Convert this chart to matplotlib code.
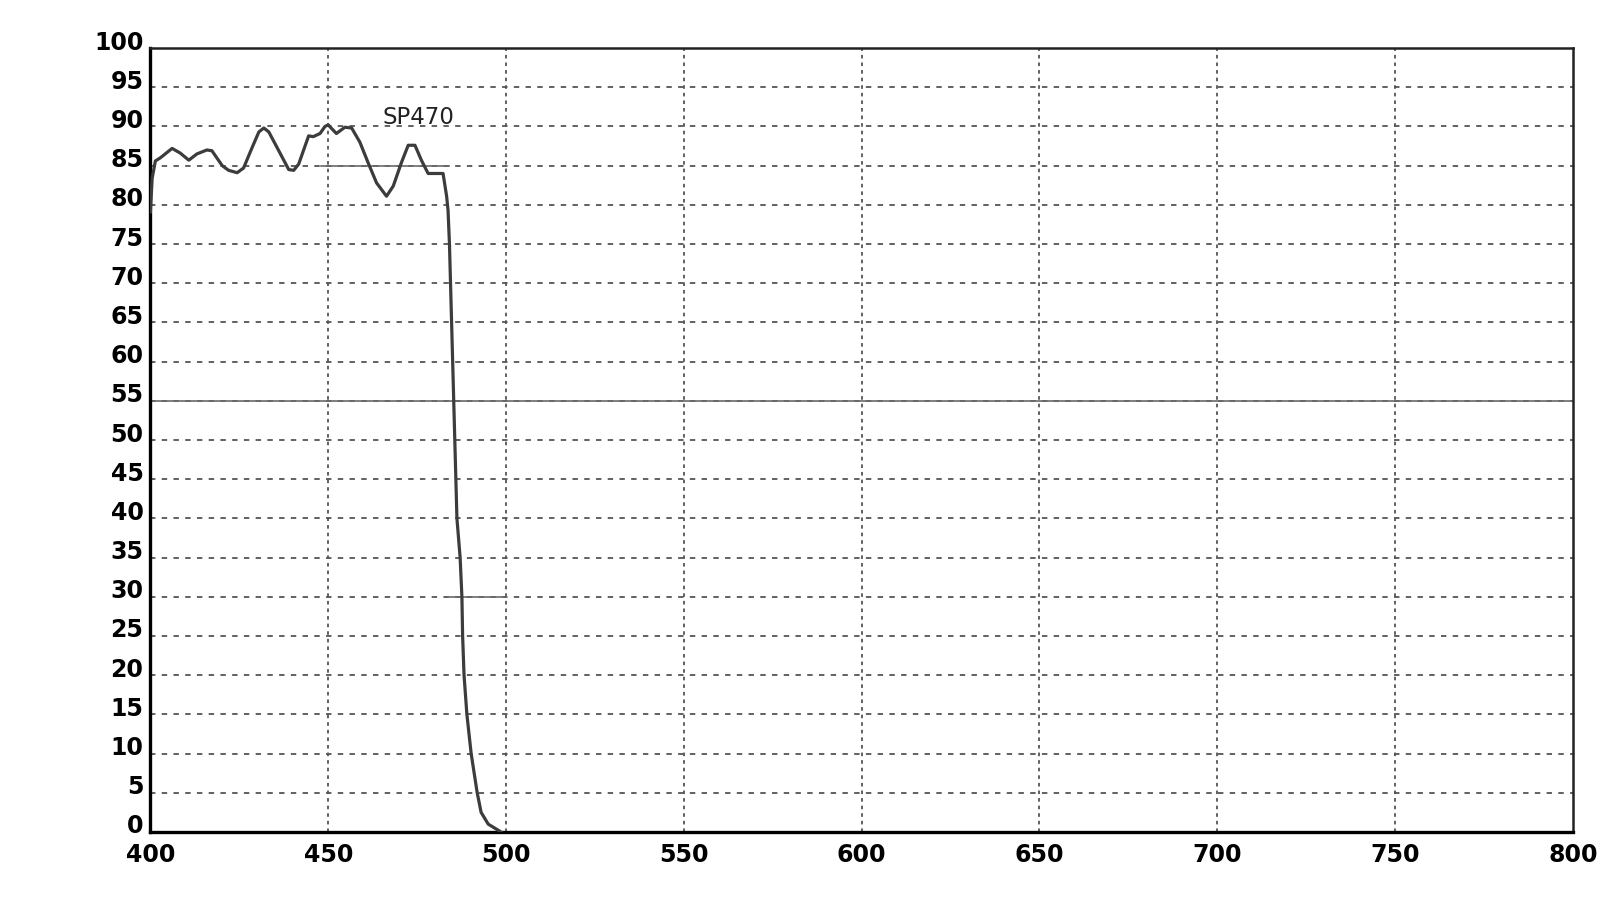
import matplotlib
matplotlib.use("Agg")
import matplotlib.pyplot as plt
import matplotlib.transforms as mtransforms

# transmission curve of the SP470 short-pass filter
wavelength = [400, 400.5, 401.4, 402.8, 406.1, 408.4, 410.8, 413.1, 415.9,
              417.3, 420.2, 422.0, 424.4, 426.2, 428.6, 430.5, 431.9, 433.3,
              436.1, 438.9, 440.3, 441.7, 444.5, 445.8, 447.7, 449.1, 450.0,
              452.3, 454.7, 456.6, 458.9, 461.2, 463.6, 466.4, 468.3, 470.6,
              472.5, 474.4, 476.2, 478.1, 482.3, 483.3, 483.7, 484.1, 485.3,
              486.2, 487.1, 487.6, 487.8, 488.2, 489.0, 490.2, 491.9, 493.0,
              495.0, 498.6]
transmission = [79.1, 83.4, 85.6, 86.0, 87.2, 86.6, 85.7, 86.5, 87.0,
                86.9, 85.0, 84.4, 84.1, 84.7, 87.3, 89.3, 89.8, 89.3,
                86.9, 84.5, 84.4, 85.2, 88.8, 88.7, 89.1, 90.0, 90.2,
                89.1, 89.9, 89.8, 88.0, 85.4, 82.8, 81.1, 82.4, 85.4,
                87.6, 87.6, 85.7, 84.0, 84.0, 81.1, 79.3, 75.0, 55.0,
                40.0, 35.0, 30.0, 25.0, 20.0, 15.0, 10.0, 5.0, 2.5,
                1.0, 0.0]

x_ticks = [400, 450, 500, 550, 600, 650, 700, 750, 800]
y_ticks = list(range(0, 101, 5))
curve_label = "SP470"

# solid stretches of grid left over in the scanned sheet
solid_levels = [55, 85, 30]
solid_from = [400, 448, 484]
solid_to = [800, 484, 500]

fig = plt.figure(figsize=(16, 9), dpi=100)
ax = fig.add_axes([0.094, 0.0756, 0.889, 0.871])

ax.set_xlim(400, 800)
ax.set_ylim(0, 100)

# dotted grid
for xv in x_ticks[1:-1]:
    ax.axvline(xv, color="#555555", lw=1.3, ls=(0, (2, 2.2)), zorder=1)
for yv in y_ticks[1:-1]:
    ax.axhline(yv, color="#555555", lw=1.3, ls=(0, (3, 3.5)), zorder=1)

for lev, a, b in zip(solid_levels, solid_from, solid_to):
    ax.plot([a, b], [lev, lev], color="#6a6a6a", lw=1.2, zorder=1.5)

ax.plot(wavelength, transmission, color="#3c3c3c", lw=2.3, zorder=3,
        solid_joinstyle="round")
ax.text(465.3, 91.2, curve_label, fontsize=16.5, color="#222222",
        ha="left", va="center", family="DejaVu Sans")

ax.set_xticks(x_ticks)
ax.set_yticks(y_ticks)
ax.tick_params(length=0)
ax.tick_params(axis="x", pad=8)
ax.tick_params(axis="y", pad=5)
for lab in ax.get_xticklabels() + ax.get_yticklabels():
    lab.set_fontsize(17)
    lab.set_fontweight("bold")
    lab.set_family("DejaVu Sans")

# y labels sit a little above their grid lines
offset = mtransforms.ScaledTranslation(0, 8 / 100, fig.dpi_scale_trans)
for lab in ax.get_yticklabels():
    lab.set_transform(lab.get_transform() + offset)

for side in ["left", "bottom"]:
    ax.spines[side].set_linewidth(2.4)
for side in ["top", "right"]:
    ax.spines[side].set_linewidth(1.8)
    ax.spines[side].set_color("#222222")

fig.savefig("out.png", dpi=100, facecolor="white")
